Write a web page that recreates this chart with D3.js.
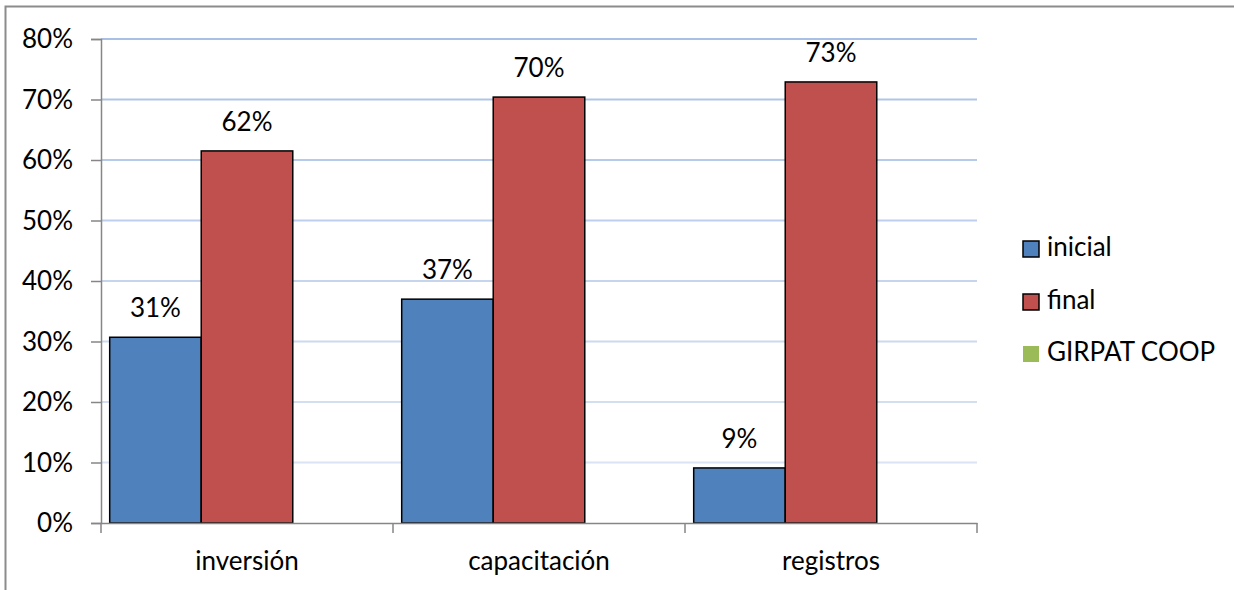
<!DOCTYPE html>
<html>
<head>
<meta charset="utf-8">
<script src="https://cdn.jsdelivr.net/npm/d3@7/dist/d3.min.js"></script>
<style>
  html, body { margin: 0; padding: 0; background: #fff; }
  svg { display: block; }
  text { font-family: Lato, "Open Sans", sans-serif; fill: #000; }
</style>
</head>
<body>
<svg id="chart" width="1234" height="590"></svg>
<script>
const categories = ["inversión", "capacitación", "registros"];
const seriesNames = ["inicial", "final", "GIRPAT COOP"];
const inicial = [0.307, 0.370, 0.091];
const final = [0.615, 0.704, 0.729];
const girpat = [0, 0, 0];
const labelsInicial = ["31%", "37%", "9%"];
const labelsFinal = ["62%", "70%", "73%"];
const yTicks = [0, 0.1, 0.2, 0.3, 0.4, 0.5, 0.6, 0.7, 0.8];
const colors = ["#4f81bd", "#c0504d", "#9bbb59"];

const seriesValues = [inicial, final, girpat];
const seriesLabels = [labelsInicial, labelsFinal, null];
const FS = 26;

const svg = d3.select("#chart");
const plotLeft = 101, plotRight = 977, plotTop = 39, plotBottom = 523;

// outer chart border (only top and left visible)
svg.append("path")
  .attr("d", "M5.5,600 L5.5,6.5 L1240,6.5")
  .attr("fill", "none").attr("stroke", "#8c8c8c").attr("stroke-width", 2);

const y = d3.scaleLinear().domain([0, 0.8]).range([plotBottom, plotTop]);
const x0 = d3.scaleBand().domain(categories).range([plotLeft, plotRight]).paddingInner(0).paddingOuter(0);
const x1 = d3.scaleBand().domain(seriesNames).range([0, x0.bandwidth()]).paddingInner(0).paddingOuter(0.095);

// gridlines
const gridColor = d3.interpolateRgb("#e1e9f5", "#a8c0e6");
svg.append("g").selectAll("line")
  .data(yTicks.filter(d => d > 0))
  .join("line")
  .attr("x1", plotLeft).attr("x2", plotRight)
  .attr("y1", d => y(d)).attr("y2", d => y(d))
  .attr("stroke", d => gridColor(d / 0.8))
  .attr("stroke-width", 2);

// bars
const barData = [];
categories.forEach((c, i) => {
  seriesNames.forEach((s, j) => {
    barData.push({ c, s, j, v: seriesValues[j][i], label: seriesLabels[j] ? seriesLabels[j][i] : null });
  });
});

svg.append("g").selectAll("rect")
  .data(barData.filter(d => d.v > 0))
  .join("rect")
  .attr("x", d => x0(d.c) + x1(d.s))
  .attr("y", d => y(d.v))
  .attr("width", x1.bandwidth())
  .attr("height", d => y(0) - y(d.v))
  .attr("fill", d => colors[d.j])
  .attr("stroke", "#000")
  .attr("stroke-width", 1.5);

// data labels
svg.append("g").selectAll("text")
  .data(barData.filter(d => d.label))
  .join("text")
  .attr("x", d => x0(d.c) + x1(d.s) + x1.bandwidth() / 2)
  .attr("y", d => y(d.v) - 20)
  .attr("text-anchor", "middle")
  .attr("font-size", FS)
  .text(d => d.label);

// y axis
const yAxis = d3.axisLeft(y).tickValues(yTicks).tickFormat(d3.format(".0%")).tickSize(10).tickPadding(18);
const gy = svg.append("g").attr("transform", `translate(${plotLeft},0)`).call(yAxis);
gy.select(".domain").attr("stroke", "#868686").attr("stroke-width", 1.5);
gy.selectAll(".tick line").attr("stroke", "#868686").attr("stroke-width", 1.5);
gy.selectAll(".tick text").attr("font-size", FS).attr("font-family", "Lato, sans-serif").attr("fill", "#000").attr("dy", "0.33em");

// x axis
const xAxis = d3.axisBottom(x0).tickSize(0).tickPadding(0);
const gx = svg.append("g").attr("transform", `translate(0,${plotBottom})`).call(xAxis);
gx.select(".domain").attr("stroke", "#868686").attr("stroke-width", 1.5);
gx.selectAll(".tick text").attr("font-size", FS).attr("font-family", "Lato, sans-serif").attr("fill", "#000")
  .attr("y", 47).attr("dy", 0);
// category boundary ticks
const boundaries = categories.map(c => x0(c)).concat([x0(categories[categories.length - 1]) + x0.bandwidth()]);
gx.selectAll(".bound").data(boundaries).join("line")
  .attr("class", "bound")
  .attr("x1", d => d).attr("x2", d => d).attr("y1", 0).attr("y2", 10)
  .attr("stroke", "#868686").attr("stroke-width", 1.5);

// legend
const legend = svg.append("g").attr("transform", "translate(1023,0)");
const legY = [256, 309, 361];
seriesNames.forEach((s, j) => {
  legend.append("rect")
    .attr("x", 0).attr("y", legY[j] - 15)
    .attr("width", 16).attr("height", 16)
    .attr("fill", colors[j])
    .attr("stroke", j < 2 ? "#000" : "none")
    .attr("stroke-width", 1.5);
  legend.append("text")
    .attr("x", 24).attr("y", legY[j])
    .attr("font-size", FS)
    .text(s);
});
</script>
</body>
</html>
